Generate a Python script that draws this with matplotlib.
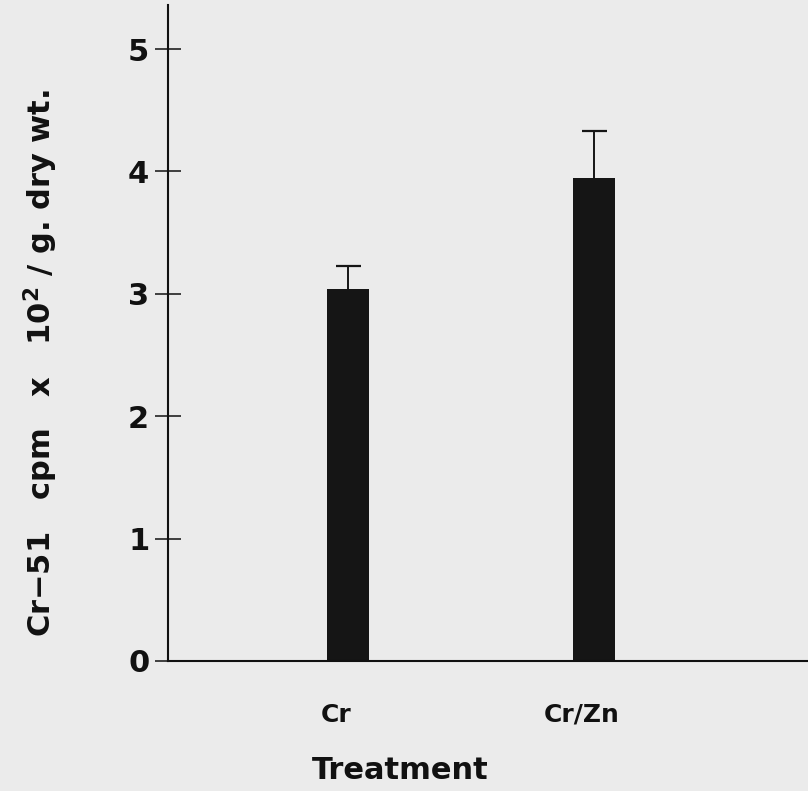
import matplotlib.pyplot as plt
from matplotlib.transforms import ScaledTranslation

# ---- data ----
treatments = ["Cr", "Cr/Zn"]
cpm = [3.04, 3.95]          # Cr-51 cpm x 10^2 / g dry wt
sem = [0.19, 0.38]          # upper error bar only
yticks = [0, 1, 2, 3, 4, 5]

plt.rcParams.update({
    "font.family": "DejaVu Sans",
    "font.weight": "bold",
    "mathtext.default": "bf",
})

bg = "#ebebeb"
ink = "#111111"
fig = plt.figure(figsize=(8.08, 7.91), dpi=100, facecolor=bg)
ax = fig.add_axes([168 / 808, 130 / 791, 640 / 808, 656 / 791], facecolor=bg)

x = list(range(len(treatments)))
ax.bar(x, cpm, width=0.17, color="#151515", zorder=2)
_, caps, _ = ax.errorbar(x, cpm, yerr=[[0] * len(sem), sem], fmt="none",
                         ecolor="#151515", elinewidth=1.4, capsize=9,
                         capthick=1.6, zorder=3)
caps[0].set_visible(False)   # no cap at the bar top

ax.set_xlim(-0.732, 1.870)
ax.set_ylim(0, 5.36)

for s in ("top", "right"):
    ax.spines[s].set_visible(False)
for s in ("left", "bottom"):
    ax.spines[s].set_linewidth(1.5)
    ax.spines[s].set_color(ink)

ax.set_yticks(yticks)
ax.set_yticklabels([str(t) for t in yticks], fontsize=22, fontweight="bold")
ax.tick_params(axis="y", direction="inout", length=19, width=1.1, pad=4,
               colors=ink)
ax.set_xticks(x)
ax.set_xticklabels(treatments, fontsize=18, fontweight="bold")
ax.tick_params(axis="x", length=0, pad=30, colors=ink)
shift = ScaledTranslation(-12 / 100, 0, fig.dpi_scale_trans)
for lab in ax.get_xticklabels():
    lab.set_transform(lab.get_transform() + shift)

ax.set_xlabel("Treatment", fontsize=22, fontweight="bold", color=ink)
ax.xaxis.set_label_coords(232 / 640, -95 / 656)
ax.set_ylabel(r"Cr$-$51   cpm   x   10$^{2}$ / g. dry wt.", fontsize=22,
              fontweight="bold", color=ink)
ax.yaxis.set_label_coords(-108 / 640, 298 / 656)

fig.savefig("out.png", dpi=100, facecolor=bg)
